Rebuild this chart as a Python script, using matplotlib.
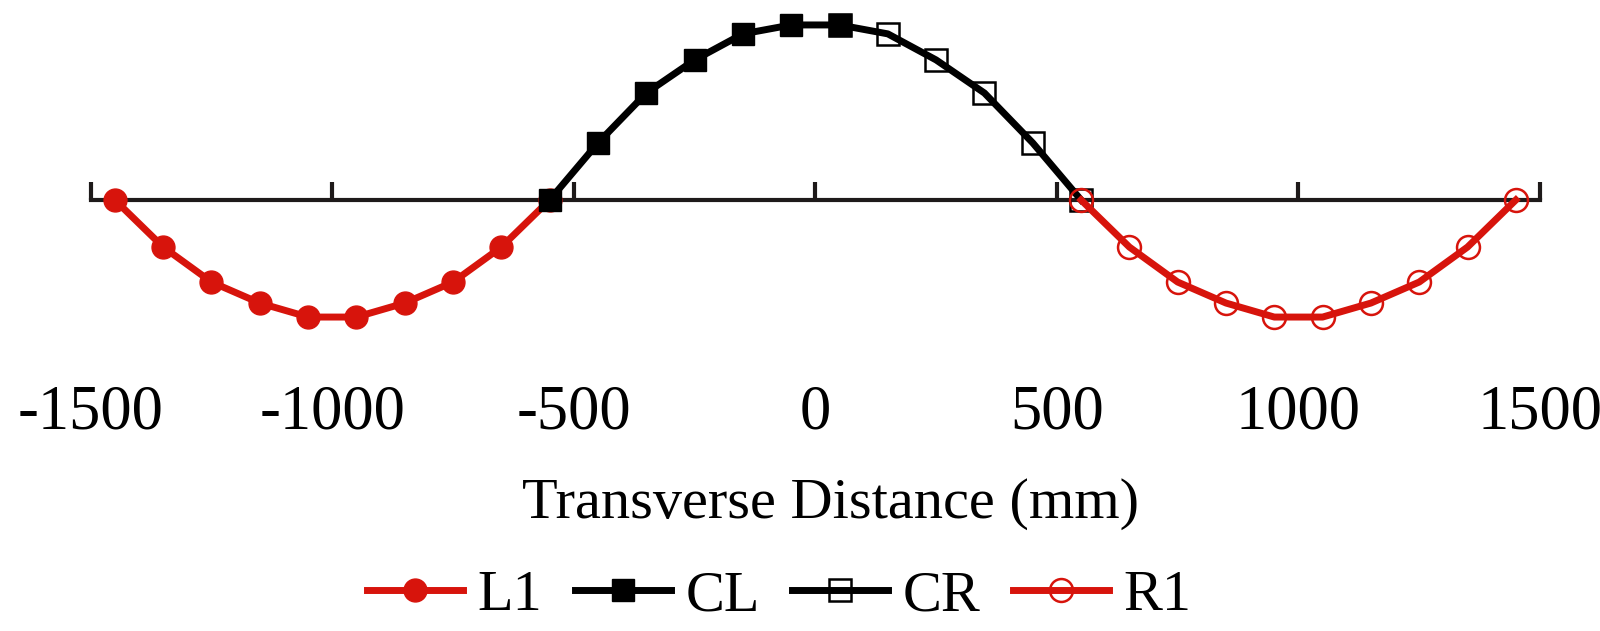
import matplotlib
matplotlib.use("Agg")
import matplotlib.pyplot as plt

# ---------------------------------------------------------------------------
# Data (normalised transverse profile)
# ---------------------------------------------------------------------------
L1_x = [-1450, -1350, -1250, -1150, -1050, -950, -850, -750, -650, -550]
L1_y = [0.0, -0.269, -0.469, -0.589, -0.669, -0.669, -0.589, -0.469, -0.269, 0.0]

CL_x = [-550, -450, -350, -250, -150, -50, 50]
CL_y = [0.0, 0.326, 0.611, 0.800, 0.949, 1.0, 1.0]

CR_x = [50, 150, 250, 350, 450, 550]
CR_y = [1.0, 0.949, 0.800, 0.611, 0.326, 0.0]

R1_x = [550, 650, 750, 850, 950, 1050, 1150, 1250, 1350, 1450]
R1_y = [0.0, -0.269, -0.469, -0.589, -0.669, -0.669, -0.589, -0.469, -0.269, 0.0]

x_ticks = [-1500, -1000, -500, 0, 500, 1000, 1500]

RED = "#d7140c"
INK = "#1e1a1a"

plt.rcParams["font.family"] = ["Liberation Serif", "DejaVu Serif"]
plt.rcParams["axes.unicode_minus"] = False

fig = plt.figure(figsize=(16, 6.31), dpi=100)
ax = fig.add_axes([0.0567, 0.4612, 0.9058, 0.527])

line_kw = dict(lw=5, ms=16.5, clip_on=False)
h_l1, = ax.plot(L1_x, L1_y, color=RED, marker="o", mfc=RED, mec=RED, label="L1", zorder=3, **line_kw)
h_cr, = ax.plot(CR_x, CR_y, color="black", marker="s", mfc="none", mec="black", mew=1.8,
                label="CR", zorder=3, **line_kw)
h_cl, = ax.plot(CL_x, CL_y, color="black", marker="s", mfc="black", mec="black",
                label="CL", zorder=4, **line_kw)
h_r1, = ax.plot(R1_x, R1_y, color=RED, marker="o", mfc="none", mec=RED, mew=1.8,
                label="R1", zorder=5, **line_kw)

ax.set_xlim(-1500, 1500)
ax.set_ylim(-0.8, 1.1)

# axis line through zero, ticks pointing up, no labels on it
for s in ("left", "right", "top"):
    ax.spines[s].set_visible(False)
ax.spines["bottom"].set_position(("data", 0))
ax.spines["bottom"].set_color(INK)
ax.spines["bottom"].set_linewidth(3)
ax.spines["bottom"].set_zorder(2)
ax.set_yticks([])
ax.set_xticks(x_ticks)
ax.tick_params(axis="x", direction="in", length=13, width=3, color=INK, labelbottom=False)

# tick labels sit below the plot
sec = ax.secondary_xaxis("bottom")
sec.spines["bottom"].set_visible(False)
sec.set_xticks(x_ticks)
sec.set_xticklabels([str(v) for v in x_ticks])
sec.tick_params(axis="x", length=0, pad=32, labelsize=45, labelcolor="black")

fig.text(0.519, 0.179, "Transverse Distance (mm)", fontsize=42, ha="center", va="baseline")

fig.legend(handles=[h_l1, h_cl, h_cr, h_r1], loc="center", bbox_to_anchor=(0.487, 0.056),
           ncol=4, frameon=False, fontsize=42, handlelength=1.65, handletextpad=0.25,
           columnspacing=0.55, borderpad=0, borderaxespad=0)

fig.savefig("out.png", dpi=100)
